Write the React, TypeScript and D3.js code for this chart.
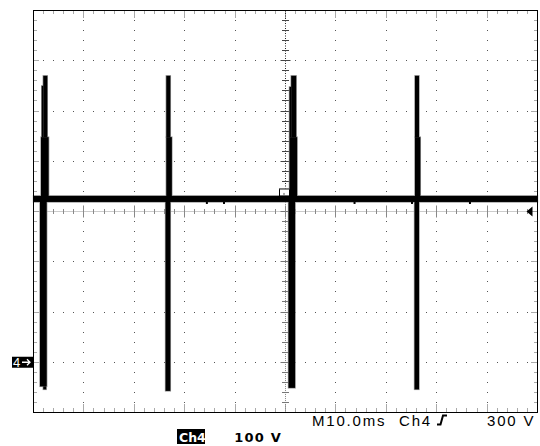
import React from "react";
import * as d3 from "d3";

// ---- data ----
const timeDivisions = d3.range(0, 11); // 10 ms / div
const voltDivisions = d3.range(0, 9); // 100 V / div
const timeDomain = [0, 100]; // ms
const voltDomain = [-100, 700]; // V (ground 1 div above bottom)

// trace segments: [tStart ms, tEnd ms, vHigh V, vLow V]
const baseline = [[0, 100, 331, 319]];
const spike1 = [
  [1.63, 1.94, 550, 448],
  [1.94, 2.74, 570, 448],
  [1.49, 3.0, 448, 325],
  [1.29, 2.62, 325, -48],
  [1.94, 2.52, -48, -54],
];
const spike2 = [
  [26.35, 27.15, 570, 448],
  [26.35, 27.45, 448, 325],
  [26.2, 27.15, 325, -57],
];
const spike3 = [
  [50.79, 51.13, 548, 448],
  [51.13, 52.12, 570, 448],
  [50.79, 52.3, 448, 325],
  [50.6, 51.9, 325, -51],
];
const spike4 = [
  [75.69, 76.49, 570, 448],
  [75.69, 76.75, 448, 325],
  [75.6, 76.49, 325, -54],
];
const noiseTimes = [34.2, 37.6, 63.5, 74.9, 86.4];
const noiseLevels = [319, 315];

const groundLevel = 0;
const triggerLevel = 300;
const triggerTime = 50;

const timebaseLabel = "M10.0ms";
const trigChannelLabel = "Ch4";
const trigLevelLabel = "300 V";
const channelLabel = "Ch4";
const channelScaleLabel = "100 V";
const groundMarkerLabel = "4";

export default function App() {
  const W = 540;
  const H = 446;
  const x = d3.scaleLinear().domain(timeDomain).range([33.5, 537.5]);
  const y = d3.scaleLinear().domain(voltDomain).range([412.5, 10.5]);
  const tDiv = 10;
  const vDiv = 100;
  const minorT = d3.range(0, 100.001, tDiv / 5);
  const minorV = d3.range(-100, 700.001, vDiv / 5);
  const cx = x(50);
  const cy = y(300);

  const dotColor = "#555";
  const dots: React.ReactNode[] = [];
  timeDivisions.slice(1, -1).forEach((d) => {
    const t = d * tDiv;
    if (t === 50) return;
    minorV.slice(1, -1).forEach((v, k) =>
      dots.push(
        <rect key={`gv${d}-${k}`} x={Math.floor(x(t))} y={Math.floor(y(v))} width={1} height={1} fill={dotColor} />
      )
    );
  });
  voltDivisions.slice(1, -1).forEach((d) => {
    const v = -100 + d * vDiv;
    if (v === 300) return;
    minorT.slice(1, -1).forEach((t, k) =>
      dots.push(
        <rect key={`gh${d}-${k}`} x={Math.floor(x(t))} y={Math.floor(y(v))} width={1} height={1} fill={dotColor} />
      )
    );
  });

  const ticks: React.ReactNode[] = [];
  minorV.slice(1, -1).forEach((v, k) => {
    const major = Math.abs((v + 100) % 100) < 1e-6;
    const len = major ? 6 : 3;
    const yy = Math.floor(y(v)) + 0.5;
    ticks.push(<line key={`tl${k}`} x1={x(0)} x2={x(0) + len} y1={yy} y2={yy} stroke={dotColor} strokeDasharray="1,1" />);
    ticks.push(<line key={`tr${k}`} x1={x(100) - len} x2={x(100)} y1={yy} y2={yy} stroke={dotColor} strokeDasharray="1,1" />);
  });
  minorT.slice(1, -1).forEach((t, k) => {
    const major = Math.abs(t % 10) < 1e-6;
    const len = major ? 8 : 4;
    const xx = Math.floor(x(t)) + 0.5;
    ticks.push(<line key={`tt${k}`} x1={xx} x2={xx} y1={y(700)} y2={y(700) + len} stroke={dotColor} strokeDasharray="1,1" />);
    ticks.push(<line key={`tb${k}`} x1={xx} x2={xx} y1={y(-100) - len} y2={y(-100)} stroke={dotColor} strokeDasharray="1,1" />);
  });

  const center: React.ReactNode[] = [];
  const cxp = Math.floor(cx) + 0.5;
  center.push(<line key="cvTop" x1={cxp} x2={cxp} y1={y(700)} y2={y(331)} stroke="#222" strokeDasharray="1,1.5" />);
  center.push(<line key="cvBot" x1={cxp} x2={cxp} y1={y(319)} y2={y(-100)} stroke="#888" strokeDasharray="1,1" />);
  center.push(<line key="ch" x1={x(0)} x2={x(100)} y1={Math.floor(cy) + 0.5} y2={Math.floor(cy) + 0.5} stroke="#999" strokeDasharray="1,1" />);
  minorV.slice(1, -1).forEach((v, k) => {
    const major = Math.abs((v + 100) % 100) < 1e-6;
    const len = major ? 5 : 3.5;
    const yy = Math.floor(y(v)) + 0.5;
    center.push(<line key={`cvt${k}`} x1={cxp - len} x2={cxp + len} y1={yy} y2={yy} stroke={v > 325 ? "#444" : "#777"} />);
  });
  minorT.slice(1, -1).forEach((t, k) => {
    const major = Math.abs(t % 10) < 1e-6;
    const len = major ? 6 : 2.5;
    const xx = Math.floor(x(t)) + 0.5;
    center.push(<line key={`cht${k}`} x1={xx} x2={xx} y1={Math.floor(cy) + 0.5 - len} y2={Math.floor(cy) + 0.5 + len} stroke="#888" />);
  });

  const segs = [...baseline, ...spike1, ...spike2, ...spike3, ...spike4];
  const traceRects = segs.map((s, i) => (
    <rect
      key={`s${i}`}
      x={x(s[0])}
      y={y(s[2])}
      width={x(s[1]) - x(s[0])}
      height={y(s[3]) - y(s[2])}
      fill="#000"
    />
  ));
  const traceHalo = segs.map((s, i) => (
    <rect
      key={`h${i}`}
      x={x(s[0]) - 0.7}
      y={y(s[2]) - 0.7}
      width={x(s[1]) - x(s[0]) + 1.4}
      height={y(s[3]) - y(s[2]) + 1.4}
      fill="#999"
    />
  ));
  const noise = noiseTimes.map((t, i) => (
    <rect key={`n${i}`} x={x(t)} y={y(noiseLevels[0])} width={2} height={y(noiseLevels[1]) - y(noiseLevels[0])} fill="#000" />
  ));

  const gy = y(groundLevel);
  const ty = y(triggerLevel);
  const tx = x(triggerTime);

  return (
    <svg width={W} height={H} style={{ position: "absolute", left: 0, top: 0, background: "#fff" }}>
      <rect x={0} y={0} width={W} height={H} fill="#fff" />
      {dots}
      {ticks}
      {center}
      {traceHalo}
      {traceRects}
      {noise}
      <rect x={x(0)} y={y(700)} width={x(100) - x(0)} height={y(-100) - y(700)} fill="none" stroke="#000" />
      {/* trigger position marker */}
      <rect x={tx - 6} y={y(331) - 7} width={10} height={7} fill="#fff" stroke="#000" />
      <line x1={tx - 6} x2={tx + 4} y1={y(331) - 7} y2={y(331) - 7} stroke="#888" />
      <rect x={tx - 2} y={y(331) - 3} width={1} height={2} fill="#555" />
      {/* trigger level arrow */}
      <path d={`M${x(100) - 11},${ty} L${x(100) - 5},${ty - 5} L${x(100) - 5},${ty + 5} Z`} fill="#000" />
      {/* ground marker */}
      <rect x={12} y={gy - 5.5} width={21} height={11} fill="#000" />
      <text x={13} y={gy + 5} fill="#fff" fontFamily="Liberation Sans, Arial, sans-serif" fontSize={13}>
        {groundMarkerLabel}
      </text>
      <path d={`M22,${gy} H30 M27,${gy - 3} L30,${gy} L27,${gy + 3}`} stroke="#fff" strokeWidth={1.3} fill="none" />
      {/* readouts */}
      <g fontFamily="Liberation Sans, Arial, sans-serif" fontSize={15} fill="#000" letterSpacing={1.8}>
        <text x={312} y={425.5}>{timebaseLabel}</text>
        <text x={399} y={425.5}>{trigChannelLabel}</text>
        <text x={487} y={425.5}>{trigLevelLabel}</text>
      </g>
      <path d="M437,424.5 H440.5 L443,415.5 H447" stroke="#000" strokeWidth={2} fill="none" />
      <rect x={177} y={429} width={28} height={15} fill="#000" />
      <text x={179} y={441.5} fill="#fff" fontFamily="DejaVu Sans, sans-serif" fontWeight="bold" fontSize={12.5}>
        {channelLabel}
      </text>
      <text x={282} y={442} textAnchor="end" fill="#000" fontFamily="DejaVu Sans, sans-serif" fontWeight="bold" fontSize={13} letterSpacing={1.2}>
        {channelScaleLabel}
      </text>
    </svg>
  );
}
